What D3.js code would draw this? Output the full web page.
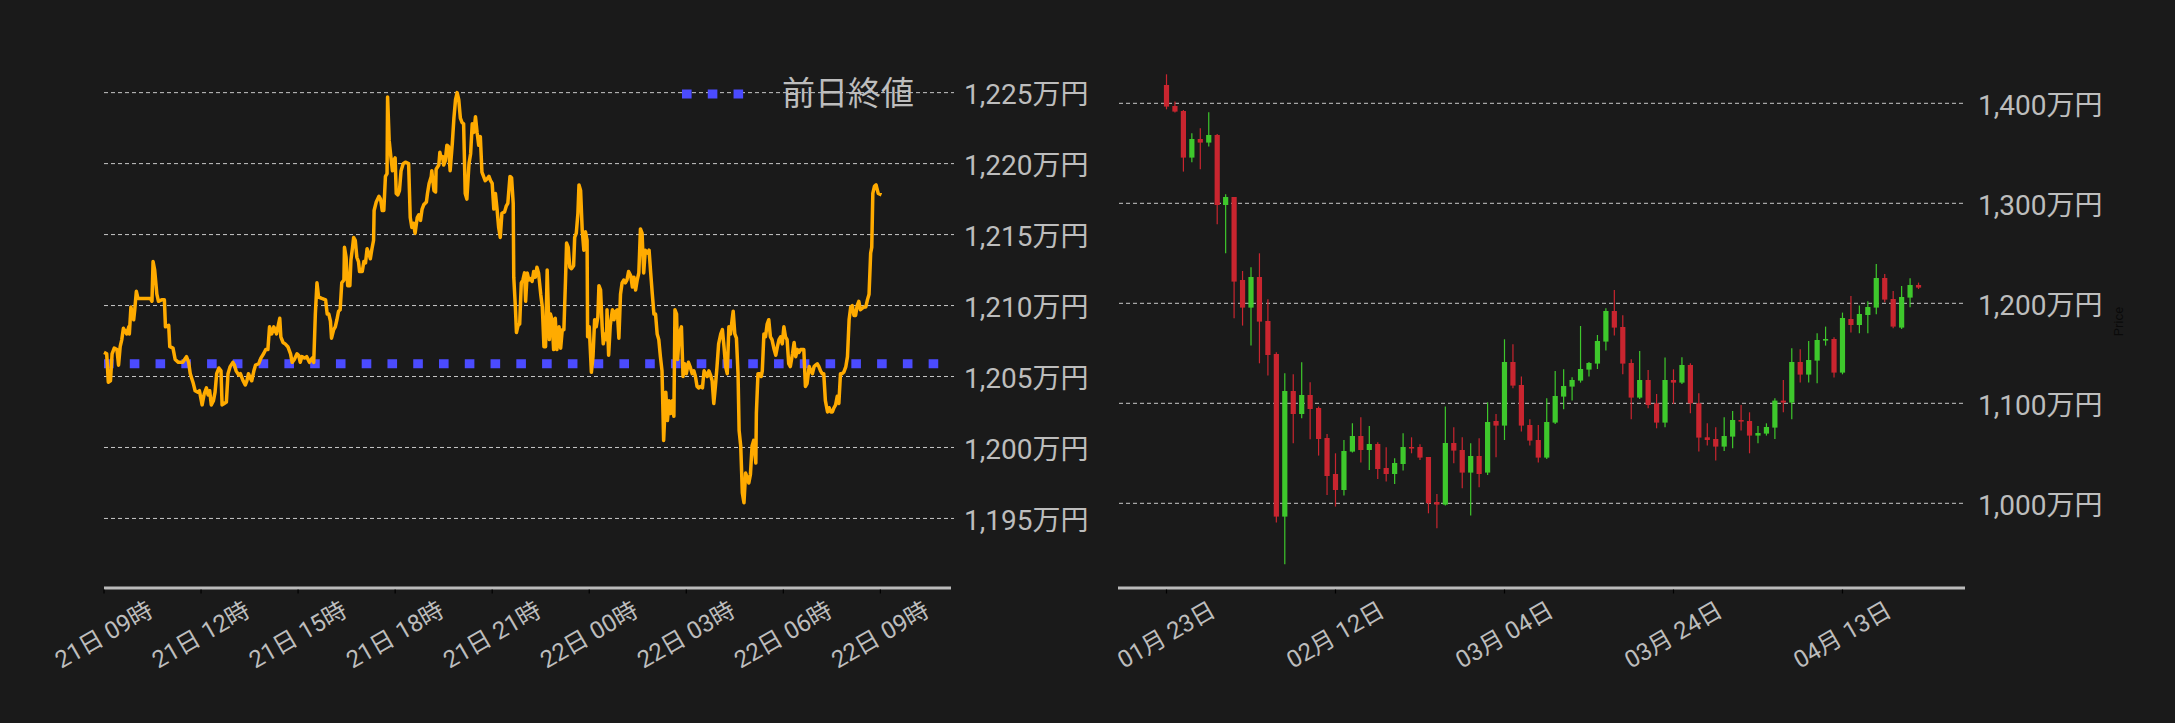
<!DOCTYPE html>
<html>
<head>
<meta charset="utf-8">
<script src="https://cdn.jsdelivr.net/npm/d3@7"></script>
<style>
  html, body { margin: 0; padding: 0; background: #1a1a1a; }
  svg { display: block; }
  text { font-family: Roboto, "Noto Sans CJK JP", sans-serif; }
</style>
</head>
<body>
<svg id="chart" width="2175" height="723"></svg>
<script>
// ---------------- DATA ----------------
// Intraday (left): minutes after 2025-04-21 09:00, price in 万円
const intradayBase = "2025-04-21T09:00:00";
const intradayPoints = [
  [0,1206.7],[5,1206.6],[8,1204.6],[12,1204.7],[15,1206.6],[19,1207.0],[24,1206.9],[27,1205.8],[30,1207.1],[33,1207.6],
  [36,1208.4],[42,1208.0],[46,1208.5],[47,1208.0],[50,1209.9],[53,1209.2],[55,1209.0],[57,1209.7],[60,1211.0],[63,1210.5],
  [86,1210.5],[89,1210.3],[91,1213.1],[94,1212.5],[98,1210.8],[101,1210.3],[107,1210.4],[112,1210.4],[114,1208.5],[120,1208.6],
  [122,1207.1],[128,1207.0],[132,1206.2],[138,1206.0],[146,1206.0],[153,1206.4],[157,1206.0],[160,1205.2],[165,1204.6],[169,1204.0],
  [174,1203.9],[177,1204.0],[182,1203.0],[186,1203.8],[190,1204.2],[193,1203.7],[196,1204.0],[199,1203.0],[203,1203.3],[206,1203.9],
  [209,1205.2],[213,1205.6],[217,1205.4],[219,1203.0],[223,1203.1],[227,1203.2],[230,1205.2],[234,1205.7],[239,1206.0],[242,1205.8],
  [245,1205.4],[250,1205.1],[253,1205.2],[258,1204.7],[262,1204.4],[265,1204.7],[268,1205.2],[271,1204.9],[274,1204.7],[278,1205.4],
  [281,1205.8],[287,1205.9],[291,1206.3],[296,1206.6],[300,1206.9],[304,1206.9],[307,1208.5],[311,1208.0],[315,1208.5],[320,1208.0],
  [322,1208.4],[326,1209.1],[328,1207.8],[332,1207.4],[336,1207.3],[341,1207.1],[346,1206.6],[349,1206.0],[353,1206.2],[358,1206.6],
  [361,1206.5],[364,1206.0],[367,1206.4],[372,1206.3],[376,1206.4],[381,1206.0],[386,1206.3],[389,1206.0],[392,1209.4],[395,1211.6],
  [398,1210.6],[404,1210.5],[411,1210.4],[414,1209.4],[417,1209.4],[420,1208.9],[422,1207.7],[426,1208.3],[429,1208.5],[432,1209.0],
  [435,1209.6],[438,1209.7],[441,1211.6],[445,1211.8],[446,1214.1],[449,1213.4],[452,1211.4],[456,1211.4],[458,1213.2],[461,1214.1],
  [463,1214.8],[466,1214.6],[469,1213.4],[472,1213.1],[474,1212.4],[479,1212.4],[482,1213.1],[485,1213.0],[488,1214.0],[491,1213.7],
  [494,1213.3],[497,1214.0],[500,1214.6],[501,1216.7],[505,1217.3],[510,1217.7],[513,1217.5],[516,1216.7],[519,1216.7],[522,1219.1],
  [525,1219.3],[526,1224.7],[529,1221.6],[532,1220.5],[535,1219.5],[537,1220.2],[540,1220.4],[542,1217.9],[545,1217.8],[548,1218.1],
  [551,1219.5],[555,1220.0],[559,1220.1],[565,1220.0],[568,1216.2],[571,1215.5],[574,1215.8],[577,1215.1],[581,1216.2],[584,1216.4],
  [587,1216.0],[590,1216.8],[593,1217.1],[598,1217.3],[600,1217.9],[603,1218.6],[607,1219.1],[608,1219.5],[612,1218.1],[615,1218.0],
  [616,1219.6],[621,1219.9],[623,1220.8],[625,1220.4],[628,1220.5],[630,1219.9],[633,1220.2],[636,1221.3],[639,1221.2],[642,1219.5],
  [646,1221.4],[649,1223.2],[652,1224.5],[655,1225.0],[658,1224.5],[661,1223.2],[664,1222.9],[667,1222.8],[670,1217.9],[673,1217.5],
  [677,1220.0],[680,1220.7],[683,1222.8],[686,1222.2],[689,1223.3],[692,1222.2],[695,1221.3],[698,1221.9],[701,1219.4],[704,1219.1],
  [707,1218.8],[710,1218.9],[714,1219.1],[717,1218.8],[720,1218.6],[723,1216.8],[726,1217.9],[729,1216.8],[732,1215.5],[735,1214.8],
  [738,1216.5],[743,1216.6],[746,1217.0],[749,1217.2],[753,1219.1],[756,1219.0],[759,1217.2],[760,1212.0],[763,1209.9],[765,1208.1],
  [768,1208.6],[771,1208.7],[774,1211.6],[777,1211.8],[780,1212.3],[782,1210.3],[785,1212.3],[788,1211.8],[791,1211.9],[794,1211.7],
  [797,1212.4],[800,1212.0],[803,1212.7],[806,1212.3],[810,1210.8],[813,1209.9],[816,1207.1],[819,1207.1],[822,1212.5],[824,1209.9],
  [826,1207.6],[828,1209.4],[831,1209.0],[834,1206.9],[837,1209.1],[840,1206.9],[844,1208.5],[847,1207.0],[850,1208.3],[853,1208.3],
  [856,1211.8],[858,1214.4],[861,1214.1],[864,1212.7],[867,1212.6],[871,1212.8],[873,1214.8],[876,1215.1],[879,1216.5],[881,1218.5],
  [884,1218.1],[887,1215.3],[890,1213.9],[893,1215.2],[896,1214.6],[897,1207.8],[900,1208.5],[904,1205.3],[907,1206.4],[910,1209.0],
  [913,1208.5],[916,1209.2],[918,1211.4],[921,1211.1],[924,1208.5],[926,1207.3],[929,1208.0],[932,1207.6],[933,1209.7],[936,1206.5],
  [939,1208.6],[943,1209.7],[946,1209.0],[949,1209.6],[952,1209.7],[955,1207.7],[958,1210.8],[961,1211.6],[964,1211.8],[967,1211.6],
  [970,1211.8],[973,1212.4],[977,1212.1],[980,1211.3],[983,1212.0],[986,1211.1],[989,1211.8],[992,1212.3],[995,1215.4],[998,1215.1],
  [1001,1212.3],[1004,1213.9],[1008,1213.7],[1011,1213.9],[1014,1212.3],[1017,1210.8],[1020,1209.4],[1023,1209.4],[1026,1208.0],[1029,1207.6],
  [1032,1206.4],[1035,1205.4],[1038,1200.5],[1042,1203.9],[1045,1201.9],[1048,1203.3],[1051,1202.4],[1054,1203.3],[1057,1202.2],[1059,1209.7],
  [1062,1209.4],[1064,1206.2],[1067,1208.0],[1071,1208.5],[1074,1205.0],[1077,1205.9],[1080,1205.2],[1084,1206.0],[1087,1205.7],[1091,1205.2],
  [1094,1205.4],[1097,1205.0],[1100,1204.3],[1103,1204.2],[1106,1204.3],[1110,1204.2],[1113,1205.4],[1116,1205.2],[1119,1205.0],[1122,1205.4],
  [1125,1205.1],[1128,1204.7],[1131,1203.1],[1134,1204.3],[1137,1205.7],[1140,1207.3],[1144,1208.0],[1147,1208.3],[1150,1207.1],[1153,1205.7],
  [1156,1205.2],[1159,1208.5],[1162,1208.0],[1165,1209.0],[1167,1209.6],[1170,1208.0],[1173,1207.7],[1176,1205.2],[1178,1201.2],[1181,1200.1],
  [1184,1196.8],[1187,1196.1],[1190,1198.2],[1193,1197.9],[1196,1197.5],[1199,1198.1],[1202,1200.1],[1205,1200.5],[1209,1198.9],[1210,1202.4],
  [1213,1205.2],[1216,1205.2],[1219,1205.0],[1221,1205.4],[1224,1208.0],[1227,1207.8],[1230,1208.7],[1233,1209.0],[1236,1207.8],[1239,1207.6],
  [1243,1206.9],[1246,1206.5],[1249,1207.1],[1252,1207.6],[1255,1207.8],[1258,1207.3],[1261,1208.5],[1264,1207.8],[1267,1207.6],[1270,1205.9],
  [1273,1205.7],[1277,1206.6],[1280,1207.4],[1283,1206.4],[1286,1206.9],[1289,1206.7],[1292,1206.9],[1298,1206.9],[1301,1204.3],[1304,1204.5],
  [1308,1205.7],[1311,1205.4],[1314,1205.2],[1317,1205.7],[1320,1205.8],[1323,1205.9],[1326,1205.7],[1329,1205.4],[1332,1205.2],[1335,1205.2],
  [1338,1203.3],[1342,1202.5],[1345,1202.8],[1348,1202.5],[1351,1202.5],[1354,1202.8],[1357,1203.0],[1360,1203.6],[1363,1203.1],[1366,1205.2],
  [1369,1205.2],[1372,1205.3],[1376,1205.7],[1379,1206.4],[1382,1209.0],[1385,1209.9],[1388,1210.0],[1391,1209.3],[1394,1209.3],[1397,1210.0],
  [1400,1210.3],[1403,1209.7],[1406,1209.8],[1410,1209.9],[1413,1209.9],[1416,1210.4],[1419,1210.8],[1422,1213.7],[1424,1214.1],[1426,1217.9],
  [1429,1218.4],[1432,1218.5],[1436,1217.9],[1442,1217.8]
];
const previousClose = 1205.9;
const legendLabel = "前日終値";
const intradayYTicks = [1195, 1200, 1205, 1210, 1215, 1220, 1225];
const intradayXTickHours = [0, 3, 6, 9, 12, 15, 18, 21, 24];

// Daily candles (right): consecutive days starting 2025-01-23, [open, high, low, close] in 万円
const candleStart = "2025-01-23";
const candleOHLC = [
  [1418.3,1429.0,1394.0,1396.7],[1397.3,1401.7,1390.7,1391.7],[1392.3,1393.3,1331.7,1345.7],[1345.7,1370.0,1341.0,1364.3],
  [1364.3,1375.0,1334.0,1360.7],[1360.7,1391.0,1356.7,1368.3],[1368.3,1369.3,1279.0,1298.3],[1298.3,1309.0,1250.0,1306.3],
  [1306.3,1306.3,1185.0,1221.7],[1223.3,1232.3,1177.7,1195.7],[1195.7,1236.0,1157.7,1226.3],[1226.3,1250.0,1140.0,1181.7],
  [1182.3,1204.0,1127.7,1148.3],[1149.3,1151.0,980.7,986.7],[986.7,1130.0,939.0,1112.3],[1112.3,1129.0,1060.0,1089.3],
  [1089.3,1141.0,1085.0,1108.3],[1108.3,1121.0,1064.0,1094.3],[1095.3,1096.7,1047.7,1064.3],[1065.3,1069.3,1008.3,1027.3],
  [1029.3,1050.0,996.7,1013.3],[1013.3,1063.3,1007.7,1052.3],[1051.7,1080.0,1050.7,1067.3],[1067.3,1086.0,1040.7,1053.3],
  [1053.3,1077.3,1033.3,1059.3],[1059.3,1061.0,1024.3,1034.3],[1035.3,1056.0,1021.7,1029.3],[1029.3,1045.0,1019.3,1040.3],
  [1039.3,1070.0,1032.7,1056.3],[1056.3,1066.0,1050.0,1055.7],[1056.3,1059.0,1043.3,1045.7],[1046.3,1046.3,990.0,1000.0],
  [1001.3,1009.3,975.0,998.7],[998.7,1096.7,997.7,1060.3],[1060.3,1076.0,1040.0,1052.7],[1053.3,1066.0,1015.0,1030.7],
  [1030.7,1060.0,987.7,1047.3],[1047.3,1065.0,1016.0,1029.3],[1030.7,1101.0,1028.3,1081.3],[1082.3,1089.3,1046.0,1077.7],
  [1077.7,1164.0,1063.3,1141.3],[1141.3,1159.0,1115.0,1117.7],[1118.3,1126.7,1071.7,1077.7],[1078.3,1084.0,1057.7,1062.7],
  [1063.3,1078.3,1040.7,1045.7],[1045.7,1105.0,1044.3,1081.3],[1080.7,1132.3,1079.3,1107.3],[1106.7,1134.0,1094.0,1117.3],
  [1116.7,1126.0,1102.7,1123.3],[1122.7,1177.3,1120.7,1134.3],[1133.7,1141.3,1126.7,1140.3],[1139.7,1168.3,1134.3,1162.3],
  [1161.7,1195.0,1152.7,1192.3],[1192.3,1213.3,1167.7,1175.7],[1176.3,1188.0,1129.0,1139.7],[1140.3,1144.0,1084.0,1105.7],
  [1105.7,1152.3,1104.3,1123.3],[1123.3,1133.3,1095.0,1098.3],[1100.0,1109.3,1075.0,1080.7],[1080.7,1145.7,1076.0,1123.3],
  [1123.3,1134.0,1099.3,1120.7],[1120.7,1146.0,1119.3,1138.3],[1138.3,1140.0,1090.0,1100.0],[1100.0,1110.0,1051.7,1065.7],
  [1066.0,1080.0,1057.7,1063.3],[1064.3,1076.0,1042.7,1056.7],[1056.7,1086.0,1052.3,1067.3],[1066.7,1092.3,1055.0,1083.3],
  [1083.3,1098.3,1072.7,1081.7],[1082.3,1091.0,1050.0,1067.7],[1067.7,1077.3,1060.0,1070.3],[1069.7,1080.0,1067.7,1076.3],
  [1075.7,1105.0,1064.3,1102.7],[1102.7,1123.3,1091.0,1100.7],[1100.7,1155.0,1084.0,1141.3],[1141.3,1154.0,1120.7,1128.7],
  [1128.7,1162.3,1120.7,1143.3],[1142.7,1170.0,1120.0,1163.3],[1162.7,1176.7,1157.7,1164.3],[1164.3,1166.0,1125.7,1130.7],
  [1130.7,1190.7,1129.0,1185.3],[1184.3,1207.3,1170.7,1178.3],[1178.3,1197.7,1170.0,1189.3],[1188.3,1202.0,1170.0,1196.3],
  [1195.7,1239.3,1189.0,1225.3],[1225.3,1229.3,1201.0,1203.7],[1204.3,1212.3,1175.0,1176.7],[1175.7,1217.3,1174.3,1206.3],
  [1205.7,1225.0,1196.0,1218.3],[1218.3,1220.7,1214.3,1215.7]
];
const dailyYTicks = [1000, 1100, 1200, 1300, 1400];
const dailyXTickDates = ["2025-01-23", "2025-02-12", "2025-03-04", "2025-03-24", "2025-04-13"];
const yAxisTitle = "Price";

// ---------------- DRAWING ----------------
const svg = d3.select("#chart");
const W = 2175, H = 723;
svg.append("rect").attr("width", W).attr("height", H).attr("fill", "#1a1a1a");

const TEXT = "#bdbdbd", GRID = "#c8c8c8", AXIS = "#bbbbbb";
const fmtYen = v => d3.format(",")(v) + "万円";
const parseDay = d3.timeParse("%Y-%m-%d");
const parseDT = d3.isoParse;

// ===== Left: intraday line =====
const base = parseDT(intradayBase);
const tAt = m => new Date(base.getTime() + m * 60000);
const xL = d3.scaleTime()
  .domain([tAt(0), tAt(1571)])
  .range([104, 951]);
const yL = d3.scaleLinear().domain([1190.1, 1227.3]).range([588, 60]);

const gL = svg.append("g");
// grid
gL.selectAll("line.grid").data(intradayYTicks).join("line")
  .attr("x1", 104).attr("x2", 954)
  .attr("y1", d => yL(d)).attr("y2", d => yL(d))
  .attr("stroke", GRID).attr("stroke-width", 1).attr("stroke-dasharray", "4,3");
// y labels
gL.selectAll("text.yl").data(intradayYTicks).join("text")
  .attr("x", 964).attr("y", d => yL(d) + 11.5)
  .attr("fill", TEXT).attr("font-size", 28)
  .text(fmtYen);

// previous close dotted line (spans the full x range)
const [xl0, xl1] = xL.range();
gL.append("line")
  .attr("x1", xl0).attr("x2", xl1)
  .attr("y1", yL(previousClose)).attr("y2", yL(previousClose))
  .attr("stroke", "#4b4bff").attr("stroke-width", 9)
  .attr("stroke-dasharray", "9.6,16.17");

// price line
const line = d3.line().x(d => xL(tAt(d[0]))).y(d => yL(d[1]));
gL.append("path").datum(intradayPoints)
  .attr("d", line).attr("fill", "none")
  .attr("stroke", "#ffab00").attr("stroke-width", 3.5)
  .attr("stroke-linejoin", "round");

// x axis
gL.append("line").attr("x1", 104).attr("x2", 951).attr("y1", 588).attr("y2", 588)
  .attr("stroke", AXIS).attr("stroke-width", 3);
const lTicks = intradayXTickHours.map(h => tAt(h * 60));
gL.selectAll("line.tk").data(lTicks).join("line")
  .attr("x1", d => xL(d)).attr("x2", d => xL(d))
  .attr("y1", 589.5).attr("y2", 593.5)
  .attr("stroke", "#000").attr("stroke-width", 1.2);
const fmtL = d3.timeFormat("%d日 %H時");
gL.selectAll("text.xl").data(lTicks).join("text")
  .attr("transform", d => `translate(${xL(d)},635) rotate(-30)`)
  .attr("text-anchor", "middle").attr("dominant-baseline", "central")
  .attr("fill", TEXT).attr("font-size", 24)
  .text(fmtL);

// legend
gL.append("line").attr("x1", 682).attr("x2", 744).attr("y1", 94).attr("y2", 94)
  .attr("stroke", "#4b4bff").attr("stroke-width", 9)
  .attr("stroke-dasharray", "9.6,16.17");
gL.append("text").attr("x", 782).attr("y", 93)
  .attr("dominant-baseline", "central")
  .attr("fill", TEXT).attr("font-size", 33)
  .attr("font-family", "'Noto Sans CJK JP', sans-serif")
  .text(legendLabel);

// ===== Right: daily candles =====
const day0 = parseDay(candleStart);
const candles = candleOHLC.map((c, i) => ({
  date: d3.timeDay.offset(day0, i), o: c[0], h: c[1], l: c[2], c: c[3]
}));
const DAY = 86400000;
const xR = d3.scaleTime()
  .domain([new Date(day0.getTime() - 5.74 * DAY), new Date(day0.getTime() + 94.5 * DAY)])
  .range([1118, 1965]);
const yR = d3.scaleLinear().domain([915.3, 1443.3]).range([588, 60]);

const gR = svg.append("g");
gR.selectAll("line.grid").data(dailyYTicks).join("line")
  .attr("x1", 1119).attr("x2", 1964)
  .attr("y1", d => yR(d)).attr("y2", d => yR(d))
  .attr("stroke", GRID).attr("stroke-width", 1).attr("stroke-dasharray", "4,3");
gR.selectAll("text.yl").data(dailyYTicks).join("text")
  .attr("x", 1978).attr("y", d => yR(d) + 11.5)
  .attr("fill", TEXT).attr("font-size", 28)
  .text(fmtYen);

const UP = "#3ec82c", DOWN = "#c9252f";
const cg = gR.selectAll("g.c").data(candles).join("g")
  .attr("class", "c");
cg.append("line")
  .attr("x1", d => xR(d.date)).attr("x2", d => xR(d.date))
  .attr("y1", d => yR(d.h)).attr("y2", d => yR(d.l))
  .attr("stroke", d => d.c >= d.o ? UP : DOWN).attr("stroke-width", 1.2);
cg.append("rect")
  .attr("x", d => xR(d.date) - 2.6).attr("width", 5.2)
  .attr("y", d => yR(Math.max(d.o, d.c)))
  .attr("height", d => Math.max(1.5, Math.abs(yR(d.o) - yR(d.c))))
  .attr("fill", d => d.c >= d.o ? UP : DOWN);

gR.append("line").attr("x1", 1118).attr("x2", 1965).attr("y1", 588).attr("y2", 588)
  .attr("stroke", AXIS).attr("stroke-width", 3);
const rTicks = dailyXTickDates.map(parseDay);
gR.selectAll("line.tk").data(rTicks).join("line")
  .attr("x1", d => xR(d)).attr("x2", d => xR(d))
  .attr("y1", 589.5).attr("y2", 593.5)
  .attr("stroke", "#000").attr("stroke-width", 1.2);
const fmtR = d3.timeFormat("%m月 %d日");
gR.selectAll("text.xl").data(rTicks).join("text")
  .attr("transform", d => `translate(${xR(d)},635) rotate(-30)`)
  .attr("text-anchor", "middle").attr("dominant-baseline", "central")
  .attr("fill", TEXT).attr("font-size", 24)
  .text(fmtR);

gR.append("text")
  .attr("transform", "translate(2118,321.5) rotate(-90)")
  .attr("text-anchor", "middle").attr("dominant-baseline", "central")
  .attr("fill", "#0a0a0a").attr("font-size", 13)
  .text(yAxisTitle);
</script>
</body>
</html>
